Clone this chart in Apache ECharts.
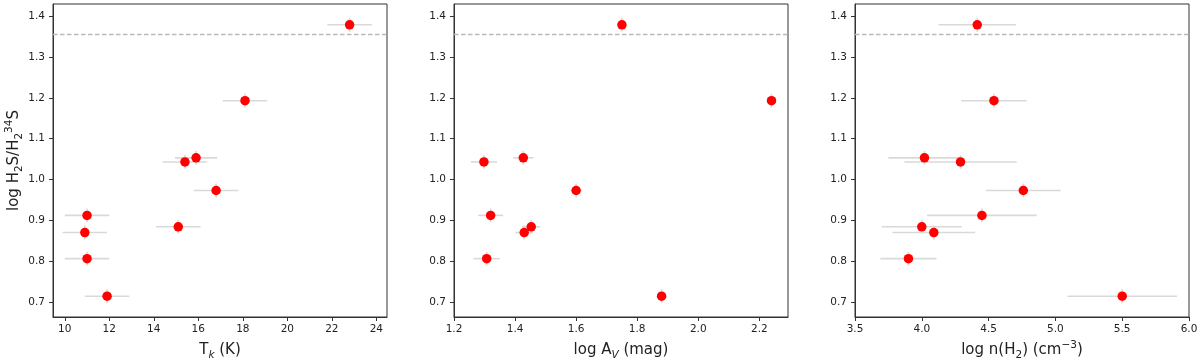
<!DOCTYPE html>
<html>
<head>
<meta charset="utf-8">
<script src="https://cdn.jsdelivr.net/npm/echarts@6/dist/echarts.min.js"></script>
<style>
  html, body { margin: 0; padding: 0; background: #fff; }
  #chart { width: 1200px; height: 362px; }
</style>
</head>
<body>
<div id="chart"></div>
<script>
  // line ratio, same order in every panel
  var ratio    = [1.379, 1.193, 1.053, 1.043, 0.973, 0.912, 0.884, 0.870, 0.806, 0.714];
  var ratioErr = [0.017, 0.017, 0.017, 0.017, 0.017, 0.017, 0.017, 0.017, 0.017, 0.017];
  var tk       = [22.8, 18.1, 15.9, 15.4, 16.8, 11.0, 15.1, 10.9, 11.0, 11.9];
  var tkErr    = [1.0, 1.0, 0.95, 1.0, 1.0, 1.0, 1.0, 1.0, 1.0, 1.0];
  var av       = [1.75, 2.24, 1.427, 1.298, 1.60, 1.32, 1.453, 1.43, 1.307, 1.88];
  var avErr    = [0.01, 0.01, 0.033, 0.043, 0.019, 0.041, 0.03, 0.029, 0.043, 0.01];
  var nh2      = [4.415, 4.54, 4.02, 4.29, 4.76, 4.45, 4.0, 4.09, 3.90, 5.5];
  var nh2Err   = [0.29, 0.245, 0.27, 0.42, 0.28, 0.41, 0.3, 0.31, 0.21, 0.41];
  var solarRatio = 1.355;

  var yTicks  = [0.7, 0.8, 0.9, 1.0, 1.1, 1.2, 1.3, 1.4];
  var tkTicks = [10, 12, 14, 16, 18, 20, 22, 24];
  var avTicks = [1.2, 1.4, 1.6, 1.8, 2.0, 2.2];
  var nTicks  = [3.5, 4.0, 4.5, 5.0, 5.5, 6.0];

  var font = 'DejaVu Sans';
  // sub/superscripts via rich text: main text centred in the line, sub at the bottom, sup at the top
  var rich = {
    n:    { fontFamily: font, fontSize: 15, color: '#222', lineHeight: 21, verticalAlign: 'middle' },
    sub:  { fontFamily: font, fontSize: 10.5, color: '#222', verticalAlign: 'bottom' },
    subi: { fontFamily: font, fontSize: 10.5, color: '#222', fontStyle: 'italic', verticalAlign: 'bottom' },
    sup:  { fontFamily: font, fontSize: 10.5, color: '#222', verticalAlign: 'top' }
  };

  var panels = [
    { x: tk, xe: tkErr, min: 9.47, max: 24.48, ticks: tkTicks,
      name: '{n|T}{subi|k}{n| (K)}', left: 53, digits: 0 },
    { x: av, xe: avErr, min: 1.2, max: 2.294, ticks: avTicks,
      name: '{n|log A}{subi|V}{n| (mag)}', left: 454, digits: 1 },
    { x: nh2, xe: nh2Err, min: 3.5, max: 6.0, ticks: nTicks,
      name: '{n|log n(H}{sub|2}{n|) (cm}{sup|−3}{n|)}', left: 855, digits: 1 }
  ];

  var grids = [], xAxes = [], yAxes = [], series = [];

  panels.forEach(function (p, i) {
    grids.push({ left: p.left, top: 4, width: 334, height: 313, outerBoundsMode: 'none',
      show: true, borderColor: '#333', borderWidth: 1, backgroundColor: 'transparent' });
    xAxes.push({
      gridIndex: i, type: 'value', min: p.min, max: p.max,
      name: p.name, nameLocation: 'middle', nameGap: 23,
      nameTextStyle: { rich: rich },
      axisLine: { show: true, lineStyle: { color: '#333' } },
      axisTick: { show: true, length: 4, customValues: p.ticks, lineStyle: { color: '#333' } },
      axisLabel: { customValues: p.ticks, fontFamily: font, fontSize: 10.5, color: '#222', margin: 7,
        formatter: function (v) { return v.toFixed(p.digits); } },
      splitLine: { show: false }
    });
    yAxes.push({
      gridIndex: i, type: 'value', min: 0.663, max: 1.430,
      name: i === 0 ? '{n|log H}{sub|2}{n|S/H}{sub|2}{sup|34}{n|S}' : '',
      nameLocation: 'middle', nameGap: 23,
      nameTextStyle: { rich: rich },
      axisLine: { show: true, lineStyle: { color: '#333' } },
      axisTick: { show: true, length: 4, customValues: yTicks, lineStyle: { color: '#333' } },
      axisLabel: { customValues: yTicks, fontFamily: font, fontSize: 10.5, color: '#222', margin: 8,
        formatter: function (v) { return v.toFixed(1); } },
      splitLine: { show: false }
    });

    // horizontal reference ratio across the whole panel
    series.push({
      type: 'line', xAxisIndex: i, yAxisIndex: i, z: 0, silent: true,
      symbol: 'none', lineStyle: { color: '#b8b8b8', type: [4.5, 2.5], width: 1.5 },
      data: [[p.min, solarRatio], [p.max, solarRatio]]
    });

    var errData = p.x.map(function (v, k) { return [v, ratio[k], p.xe[k], ratioErr[k]]; });
    series.push({
      type: 'custom', xAxisIndex: i, yAxisIndex: i, z: 1, silent: true,
      encode: { x: 0, y: 1 },
      data: errData,
      renderItem: function (params, api) {
        var x = api.value(0), y = api.value(1), dx = api.value(2), dy = api.value(3);
        var l = api.coord([x - dx, y]), r = api.coord([x + dx, y]);
        var t = api.coord([x, y + dy]), b = api.coord([x, y - dy]);
        var st = { stroke: '#d9d9d9', lineWidth: 1.6 };
        return { type: 'group', children: [
          { type: 'line', shape: { x1: l[0], y1: l[1], x2: r[0], y2: r[1] }, style: st },
          { type: 'line', shape: { x1: t[0], y1: t[1], x2: b[0], y2: b[1] }, style: st }
        ] };
      }
    });
    series.push({
      type: 'scatter', xAxisIndex: i, yAxisIndex: i, z: 3,
      symbol: 'circle', symbolSize: 9.5,
      itemStyle: { color: '#ff0000', opacity: 1 },
      data: p.x.map(function (v, k) { return [v, ratio[k]]; })
    });
  });

  var chart = echarts.init(document.getElementById('chart'));
  chart.setOption({
    animation: false,
    backgroundColor: '#fff',
    grid: grids,
    xAxis: xAxes,
    yAxis: yAxes,
    series: series
  });
</script>
</body>
</html>
